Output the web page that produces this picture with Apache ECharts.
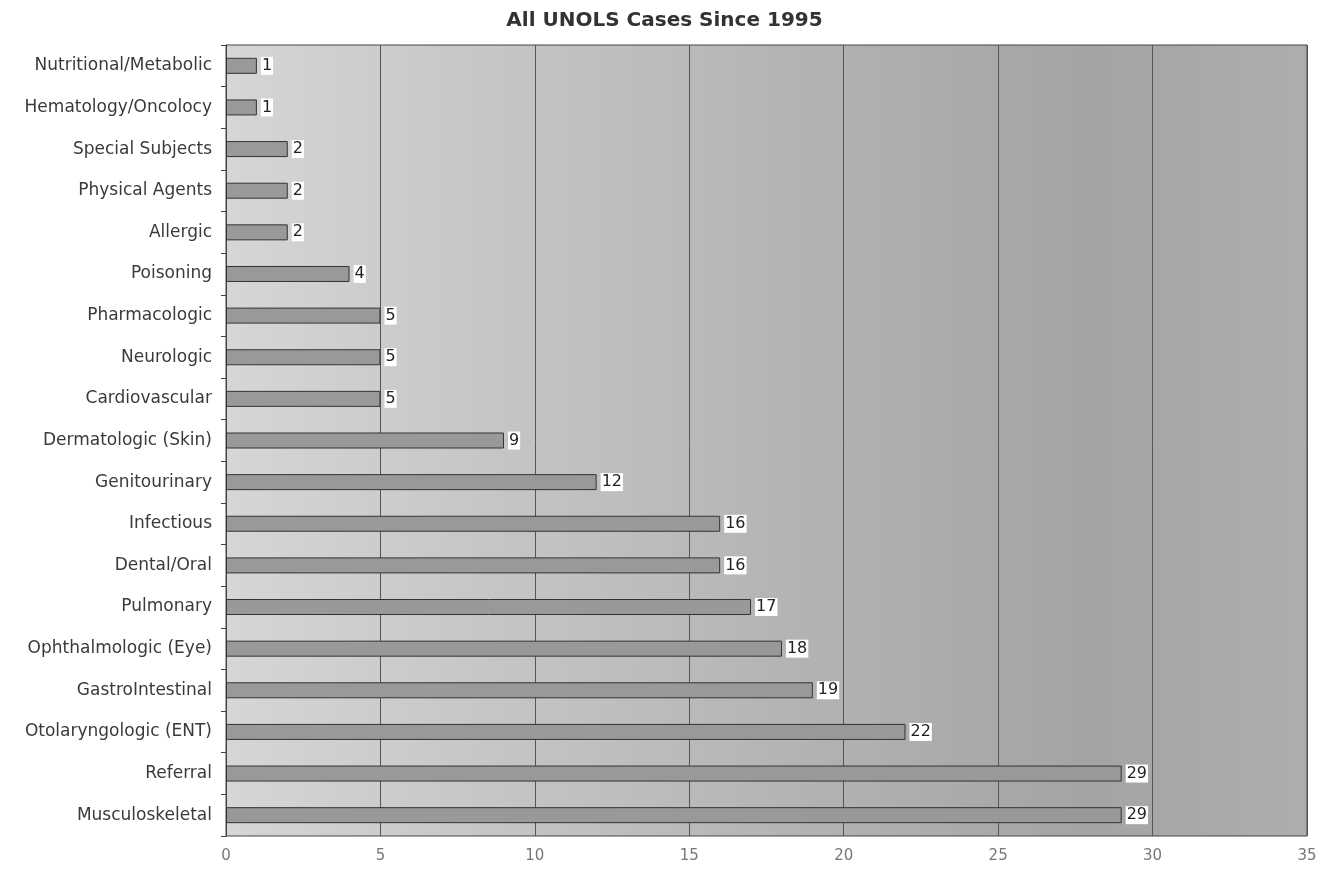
<!DOCTYPE html>
<html><head><meta charset="utf-8">
<script src="https://cdn.jsdelivr.net/npm/echarts@6/dist/echarts.min.js"></script>
<style>html,body{margin:0;padding:0;background:#fff}#c{width:1329px;height:875px}</style>
</head><body><div id="c"></div>
<script>
const categories = ["Nutritional/Metabolic","Hematology/Oncolocy","Special Subjects","Physical Agents","Allergic","Poisoning","Pharmacologic","Neurologic","Cardiovascular","Dermatologic (Skin)","Genitourinary","Infectious","Dental/Oral","Pulmonary","Ophthalmologic (Eye)","GastroIntestinal","Otolaryngologic (ENT)","Referral","Musculoskeletal"];
const cases = [1,1,2,2,2,4,5,5,5,9,12,16,16,17,18,19,22,29,29];
const xTicks = {min:0,max:35,interval:5};
const chart = echarts.init(document.getElementById('c'));
chart.setOption({
  animation:false,
  backgroundColor:'#fff',
  title:{text:'All UNOLS Cases Since 1995',left:'center',top:6,textStyle:{fontFamily:'DejaVu Sans',fontWeight:'bold',fontSize:20,color:'#333'}},
  grid:{left:226,right:22,top:45,bottom:39,show:true,borderColor:'#444',borderWidth:1,
    backgroundColor:new echarts.graphic.LinearGradient(0,0,1,0,[
      {offset:0,color:'#d6d6d6'},{offset:0.3,color:'#c2c2c2'},{offset:0.55,color:'#b2b2b2'},{offset:0.8,color:'#a4a4a4'},{offset:1,color:'#aeaeae'}])},
  xAxis:{type:'value',min:xTicks.min,max:xTicks.max,interval:xTicks.interval,
    axisLine:{show:false},axisTick:{show:false},
    splitLine:{show:true,lineStyle:{color:'#555',width:1}},
    axisLabel:{color:'#777',fontSize:15,fontFamily:'DejaVu Sans',margin:13}},
  yAxis:{type:'category',data:categories,inverse:true,
    axisLine:{show:true,lineStyle:{color:'#444'}},
    axisTick:{show:true,length:5,lineStyle:{color:'#444'}},
    axisLabel:{color:'#3a3a3a',fontSize:17,fontFamily:'DejaVu Sans',margin:14}},
  series:[{type:'bar',data:cases,barWidth:16,
    itemStyle:{color:'#999',borderColor:'#333',borderWidth:1},
    label:{show:true,position:'right',distance:4,color:'#222',fontSize:16,fontFamily:'DejaVu Sans',backgroundColor:'#fff',padding:[1,1]}}]
});
</script></body></html>
